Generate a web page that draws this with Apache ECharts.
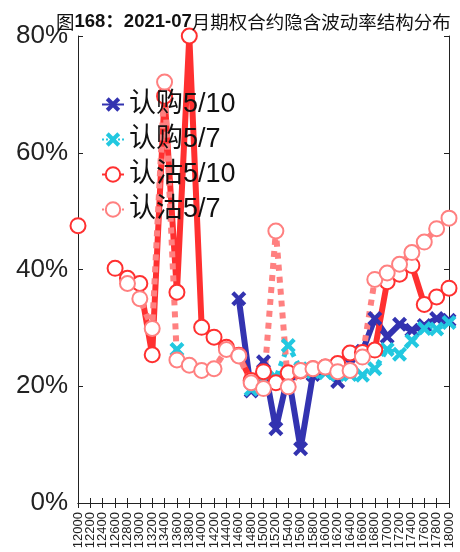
<!DOCTYPE html>
<html><head><meta charset="utf-8">
<script src="https://cdn.jsdelivr.net/npm/echarts@6/dist/echarts.min.js"></script>
<style>html,body{margin:0;padding:0;background:#fff}#c{width:460px;height:552px}</style>
</head><body><div id="c"></div>
<script>
var strikes = ['12000','12200','12400','12600','12800','13000','13200','13400','13600','13800','14000','14200','14400','14600','14800','15000','15200','15400','15600','15800','16000','16200','16400','16600','16800','17000','17200','17400','17600','17800','18000'];
var yTicks = [0, 20, 40, 60, 80];
var call510 = [null,null,null,null,null,null,null,null,null,null,null,null,null,35.0,19.2,24.2,12.7,22.0,9.3,22.0,22.5,20.8,24.0,26.0,31.6,28.5,30.6,29.6,30.4,31.6,31.3];
var call57 = [null,null,null,null,null,null,null,null,26.3,null,null,null,null,null,19.5,21.0,21.5,27.0,23.0,22.5,22.3,22.0,22.0,21.9,23.0,26.3,25.5,27.8,29.9,29.8,30.9];
var put510 = [47.5,null,null,40.2,38.5,37.6,25.4,69.7,36.1,80.0,30.1,28.4,26.7,25.3,21.0,22.5,20.6,22.3,22.6,23.0,23.3,23.9,25.7,25.8,26.2,37.9,39.2,40.7,34.0,35.3,36.8];
var put57 = [null,null,null,null,37.6,35.0,29.9,72.1,24.5,23.6,22.7,23.0,26.3,25.2,20.6,19.6,46.6,19.9,22.7,23.0,23.3,22.5,22.7,25.0,38.3,39.4,40.9,42.9,44.7,47.0,48.8];
var names = ['认购5/10','认购5/7','认沽5/10','认沽5/7'];

var crossPath = 'path://M2,0 L5,3 L8,0 L10,2 L7,5 L10,8 L8,10 L5,7 L2,10 L0,8 L3,5 L0,2 Z';
var chart = echarts.init(document.getElementById('c'));
var axisFont = 'Liberation Sans, Arial, sans-serif';
chart.setOption({
  animation: false,
  backgroundColor: '#fff',
  title: {
    text: '{n|图}{b|168：2021-07}{n|月期权合约隐含波动率结构分布}',
    left: 51, top: 8,
    textStyle: {
      rich: {
        n: {fontSize: 18.5, fontFamily: 'Noto Sans CJK SC', color: '#111', fontWeight: 'normal'},
        b: {fontSize: 18.5, fontFamily: 'Liberation Sans, Noto Sans CJK SC', color: '#111', fontWeight: 'bold'}
      }
    }
  },
  legend: {
    orient: 'vertical', left: 96, top: 86, itemGap: 8,
    itemWidth: 22, itemHeight: 18,
    data: names,
    textStyle: {fontSize: 27, fontFamily: 'Liberation Sans, Noto Sans CJK SC', color: '#111'}
  },
  grid: {left: 78, right: 11, top: 36, bottom: 49, containLabel: false},
  xAxis: [{
    type: 'category', data: strikes, boundaryGap: false,
    axisLine: {lineStyle: {color: '#222', width: 1}},
    axisTick: {inside: true, length: 5, interval: 0, lineStyle: {color: '#222'}},
    axisLabel: {rotate: 90, interval: 0, fontSize: 13, margin: 9, color: '#222', fontFamily: axisFont},
    splitLine: {show: false}
  }, {
    type: 'category', data: strikes, boundaryGap: false, position: 'top',
    axisLine: {lineStyle: {color: '#222', width: 1}},
    axisTick: {inside: true, length: 5, interval: 0, lineStyle: {color: '#222'}},
    axisLabel: {show: false}, splitLine: {show: false}
  }],
  yAxis: [{
    type: 'value', min: yTicks[0], max: yTicks[yTicks.length-1], interval: 20,
    axisLine: {show: true, lineStyle: {color: '#222', width: 1}},
    axisTick: {show: true, inside: true, length: 5, lineStyle: {color: '#222'}},
    axisLabel: {formatter: '{value}%', fontSize: 26, margin: 10, color: '#222', fontFamily: axisFont},
    splitLine: {show: false}
  }, {
    type: 'value', min: yTicks[0], max: yTicks[yTicks.length-1], interval: 20, position: 'right',
    axisLine: {show: true, lineStyle: {color: '#222', width: 1}},
    axisTick: {show: true, inside: true, length: 5, lineStyle: {color: '#222'}},
    axisLabel: {show: false}, splitLine: {show: false}
  }],
  series: [{
    name: names[0], type: 'line', data: call510, clip: false,
    symbol: crossPath, symbolSize: 15, connectNulls: false,
    lineStyle: {color: '#3333b0', width: 6},
    itemStyle: {color: '#3333b0'}
  }, {
    name: names[1], type: 'line', data: call57, clip: false,
    symbol: crossPath, symbolSize: 15,
    lineStyle: {color: '#22c8e0', width: 5, type: 'dotted'},
    itemStyle: {color: '#22c8e0'}
  }, {
    name: names[2], type: 'line', data: put510, clip: false,
    symbol: 'emptyCircle', symbolSize: 15,
    lineStyle: {color: '#ff3030', width: 6},
    itemStyle: {color: '#ff3030', borderWidth: 6}
  }, {
    name: names[3], type: 'line', data: put57, clip: false,
    symbol: 'emptyCircle', symbolSize: 15,
    lineStyle: {color: '#ff8080', width: 6, type: 'dotted'},
    itemStyle: {color: '#ff8080', borderWidth: 6}
  }]
});
</script></body></html>
